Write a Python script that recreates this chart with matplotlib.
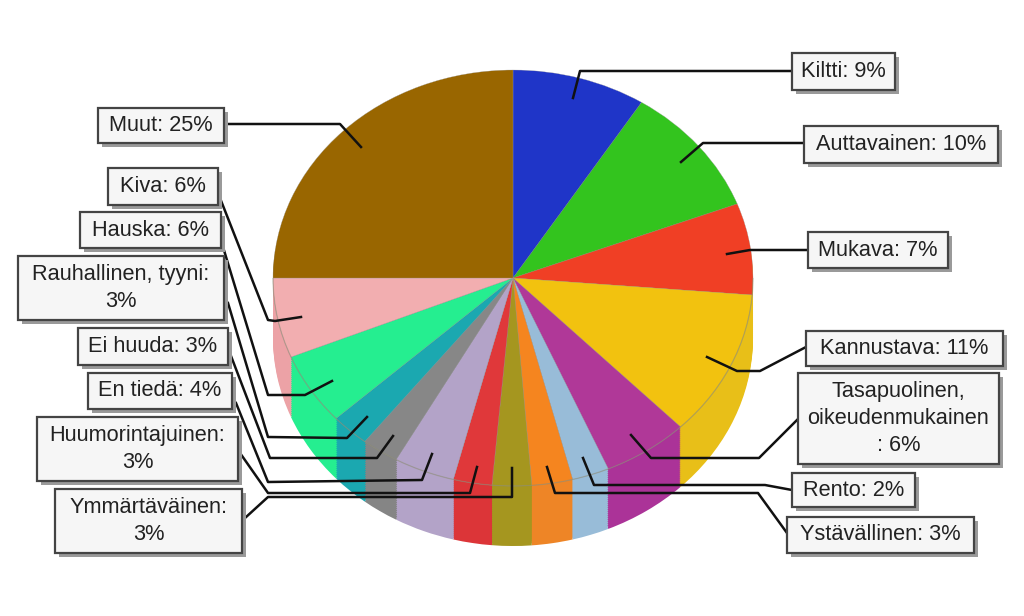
import matplotlib
matplotlib.use("Agg")
import matplotlib.pyplot as plt
from matplotlib.patches import Arc, Rectangle

plt.rcParams["font.family"] = ["Liberation Sans", "DejaVu Sans"]

# values, clockwise from 12 o'clock
names = ["Kiltti", "Auttavainen", "Mukava", "Kannustava", "Tasapuolinen", "Rento",
         "Ystävällinen", "Ymmärtäväinen", "Huumorintajuinen", "En tiedä", "Ei huuda",
         "Rauhallinen", "Hauska", "Kiva", "Muut"]
shares = [9.0, 10.2, 7.1, 11.4, 5.8, 2.5, 2.75, 2.65, 2.6, 4.1, 2.5, 2.6, 5.6, 6.2, 25.0]
label_texts = ["Kiltti: 9%", "Auttavainen: 10%", "Mukava: 7%", "Kannustava: 11%",
               "Tasapuolinen,\noikeudenmukainen\n: 6%", "Rento: 2%", "Ystävällinen: 3%",
               "Ymmärtäväinen:\n3%", "Huumorintajuinen:\n3%", "En tiedä: 4%", "Ei huuda: 3%",
               "Rauhallinen, tyyni:\n3%", "Hauska: 6%", "Kiva: 6%", "Muut: 25%"]
top_colors = ["#1f35c8", "#33c41e", "#f03f25", "#f2c20f", "#b03898", "#98bcd8", "#f5851f",
              "#a5961f", "#e0383a", "#b3a3c8", "#878787", "#1ba8b0", "#25ee90", "#f2aeb0", "#996600"]
# Mukava's wall is hidden in the reference, the yellow wall runs up to the rim there
side_colors = ["#1f35c8", "#33c41e", "#e8bf18", "#e8bf18", "#ab3398", "#98bcd8", "#ee8526",
               "#a5961f", "#dc3538", "#b3a3c8", "#858585", "#1ba8b0", "#25ee90", "#eca2a6", "#996600"]

# layout in pixels
cx, cy, rx, ry = 513, 278, 240, 208
depth = 60
boxes = [(792, 53, 103, 37), (804, 126, 194, 37), (808, 232, 140, 36), (806, 331, 197, 35),
         (798, 373, 201, 91), (792, 473, 123, 34), (787, 517, 187, 36), (55, 489, 187, 64),
         (37, 417, 201, 64), (88, 373, 144, 36), (78, 328, 150, 37), (18, 256, 206, 64),
         (80, 212, 141, 36), (108, 168, 110, 37), (98, 108, 126, 35)]
leaders = [
    [(792, 71), (580, 71), (573, 98)],
    [(804, 143), (703, 143), (681, 162)],
    [(808, 250), (750, 250), (727, 254)],
    [(806, 347), (760, 371), (737, 371), (707, 357)],
    [(797, 420), (759, 458), (651, 458), (631, 435)],
    [(792, 490), (765, 485), (594, 485), (583, 458)],
    [(787, 533), (758, 493), (555, 493), (547, 467)],
    [(245, 518), (268, 497), (512, 497), (512, 468)],
    [(240, 453), (268, 493), (470, 493), (477, 467)],
    [(236, 403), (268, 482), (422, 480), (432, 454)],
    [(231, 356), (270, 458), (377, 458), (393, 436)],
    [(228, 303), (268, 437), (347, 438), (367, 417)],
    [(223, 247), (268, 395), (305, 395), (332, 381)],
    [(218, 193), (268, 320), (275, 321), (301, 317)],
    [(226, 124), (340, 124), (361, 147)],
]

fig = plt.figure(figsize=(10.24, 6.16), dpi=100)

# pie axes: unit circle stretched onto the ellipse
pie_ax = fig.add_axes([0, 0, 1, 1])
for d in range(depth, 0, -2):
    pie_ax.pie(shares, colors=side_colors, startangle=90, counterclock=False,
               center=(0, -d / ry), radius=1, wedgeprops={"linewidth": 0})
pie_ax.pie(shares, colors=top_colors, startangle=90, counterclock=False,
           center=(0, 0), radius=1, wedgeprops={"linewidth": 0.2, "edgecolor": "#999999"})
pie_ax.add_patch(Arc((0, 0), 2, 2, theta1=180, theta2=360, color="#8a8a70", lw=0.9, alpha=0.45))
pie_ax.set_aspect("auto")
pie_ax.set_xlim(-cx / rx, (1024 - cx) / rx)
pie_ax.set_ylim((cy - 616) / ry, cy / ry)
pie_ax.axis("off")

# overlay in pixel coordinates for leaders and label boxes
ax = fig.add_axes([0, 0, 1, 1])
ax.set_xlim(0, 1024)
ax.set_ylim(616, 0)
ax.axis("off")
ax.patch.set_alpha(0)

for pts in leaders:
    xs = [p[0] for p in pts]
    ys = [p[1] for p in pts]
    ax.plot(xs, ys, color="#111111", lw=1.8, solid_joinstyle="round", zorder=2)

for (x, y, w, h), txt in zip(boxes, label_texts):
    ax.add_patch(Rectangle((x + 4, y + 4), w, h, fc="#9a9a9a", ec="none", zorder=3))
    ax.add_patch(Rectangle((x, y), w, h, fc="#f6f6f6", ec="#444444", lw=1.6, zorder=4))
    ax.text(x + w / 2, y + h / 2, txt, ha="center", va="center", fontsize=15.7,
            color="#222222", linespacing=1.35, zorder=5)

fig.savefig("out.png", dpi=100)
